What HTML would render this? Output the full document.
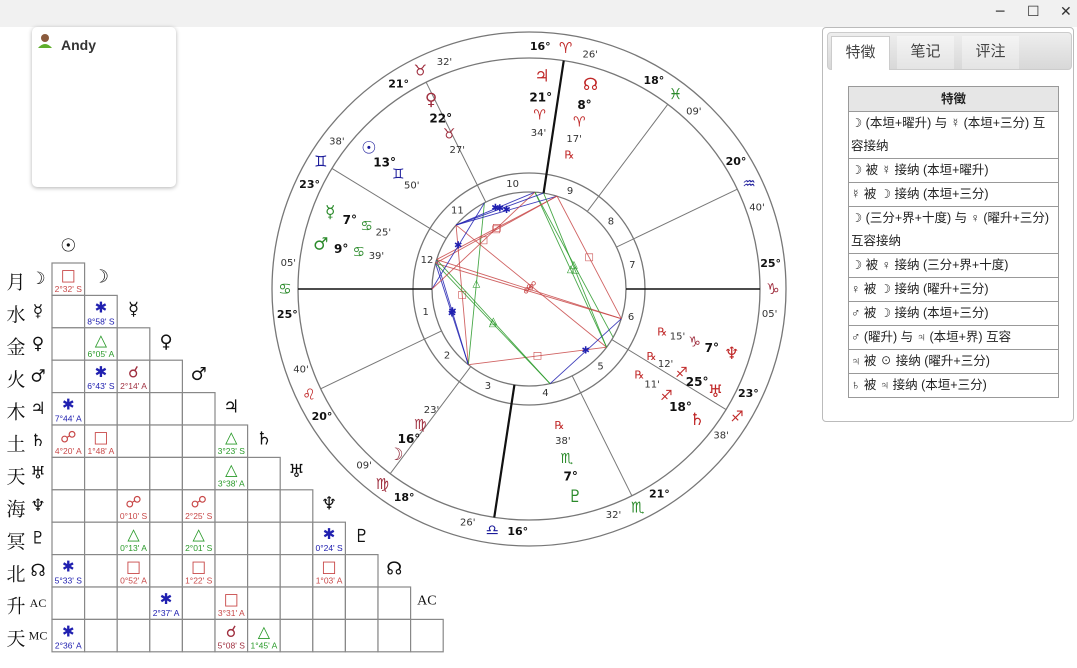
<!DOCTYPE html>
<html><head><meta charset="utf-8">
<style>
body{margin:0;width:1077px;height:668px;background:#fff;overflow:hidden;position:relative;font-family:"Liberation Sans","Noto Sans CJK SC","DejaVu Sans",sans-serif;}
.titlebar{position:absolute;left:0;top:0;width:1077px;height:27px;background:#f1f1f1;}
.ctl{position:absolute;top:4px;font-size:14px;color:#333;font-family:"DejaVu Sans",sans-serif;}
.card{position:absolute;left:32px;top:27px;width:144px;height:160px;background:#fff;border-radius:5px;box-shadow:0 1px 4px rgba(0,0,0,.3);}
.panel{position:absolute;left:822px;top:27px;width:250px;height:393px;border:1px solid #bbb;border-radius:4px;background:#fff;}
.tabs{position:absolute;left:4px;top:4px;width:243px;height:36px;background:linear-gradient(#eee,#d8d8d8);border:1px solid #ccc;border-radius:4px;}
.tab{position:absolute;top:3px;height:33px;width:57px;font-size:15px;text-align:center;line-height:32px;color:#444;background:linear-gradient(#f4f4f4,#e4e4e4);}
.tab.act{background:#fff;border:1px solid #ccc;border-bottom:none;}
table{position:absolute;left:25px;top:58px;width:211px;border-collapse:collapse;font-size:12.5px;color:#222;font-family:"Liberation Sans","Noto Sans CJK SC","DejaVu Sans",sans-serif;}
td,th{border:1px solid #999;padding:0 2px;line-height:23px;}
th{background:#e6e6e6;font-weight:bold;height:24px;}
</style></head><body>
<div class="titlebar">
<span class="ctl" style="left:996px">─</span>
<span class="ctl" style="left:1027px">☐</span>
<span class="ctl" style="left:1060px">✕</span>
</div>
<div class="card">
<svg width="20" height="20" style="position:absolute;left:5px;top:5px"><circle cx="8" cy="6" r="4" fill="#8a5a3c"/><path d="M1,16 Q8,8 15,16 Z" fill="#5fae2c"/></svg>
<span style="position:absolute;left:29px;top:10px;font-weight:bold;font-size:14px;color:#333">Andy</span>
</div>

<svg id="chart" width="1077" height="668" style="position:absolute;left:0;top:0"></svg>

<div class="panel">
<div class="tabs">
<div class="tab act" style="left:3px">特徵</div>
<div class="tab" style="left:69px">笔记</div>
<div class="tab" style="left:134px">评注</div>
</div>
<table>
<tr><th>特徵</th></tr>
<tr><td>☽ (本垣+曜升) 与 ☿ (本垣+三分) 互容接纳</td></tr>
<tr><td>☽ 被 ☿ 接纳 (本垣+曜升)</td></tr>
<tr><td>☿ 被 ☽ 接纳 (本垣+三分)</td></tr>
<tr><td>☽ (三分+界+十度) 与 ♀ (曜升+三分) 互容接纳</td></tr>
<tr><td>☽ 被 ♀ 接纳 (三分+界+十度)</td></tr>
<tr><td>♀ 被 ☽ 接纳 (曜升+三分)</td></tr>
<tr><td>♂ 被 ☽ 接纳 (本垣+三分)</td></tr>
<tr><td>♂ (曜升) 与 ♃ (本垣+界) 互容</td></tr>
<tr><td>♃ 被 ☉ 接纳 (曜升+三分)</td></tr>
<tr><td>♄ 被 ♃ 接纳 (本垣+三分)</td></tr>
</table>
</div>

<script>
// ---- data ----
const ascLon = 115.08;
const cuspLons = [115.08,140.67,168.15,196.43,231.53,263.63,295.08,320.67,348.15,16.43,51.53,83.63];
const planetNames = ['sun','moon','mercury','venus','mars','jupiter','saturn','uranus','neptune','pluto','node'];
const planetGlyphs = ['☉','☽','☿','♀','♂','♃','♄','♅','♆','♇','☊'];
const planetLons = [73.83,166.38,97.42,52.45,99.65,21.57,258.18,265.2,277.25,217.63,8.28];
const planetRetro = [false,false,false,false,false,false,true,true,true,true,true];
const planetColors = ['#1a1a9a','#8a2030','#2a8a2a','#a03040','#2a8a2a','#c02828','#c02828','#c02828','#c02828','#2a8a2a','#c02828'];
const signGlyphs = ['♈','♉','♊','♋','♌','♍','♎','♏','♐','♑','♒','♓'];
const signColors = ['#c02828','#a03040','#1a1a9a','#2a8a2a','#c02828','#a03040','#1a1a9a','#2a8a2a','#c02828','#a03040','#1a1a9a','#2a8a2a'];
// aspects: [pointA, pointB, type]  points: planet index or 'asc'/'mc'
const aspectPairs = [[0,1,'sq'],[1,2,'sx'],[1,3,'tr'],[1,4,'sx'],[0,5,'sx'],[0,6,'op'],[1,6,'sq'],[5,6,'tr'],[5,7,'tr'],[2,8,'op'],[4,8,'op'],[2,9,'tr'],[4,9,'tr'],[8,9,'sx'],[0,10,'sx'],[2,10,'sq'],[4,10,'sq'],[8,10,'sq'],[3,'asc','sx'],[5,'asc','sq'],[0,'mc','sx'],[6,'mc','tr']];
// aspect grid
const gridRowLabels = ['月','水','金','火','木','土','天','海','冥','北','升','天'];
const gridRowGlyphs = ['☽','☿','♀','♂','♃','♄','♅','♆','♇','☊','AC','MC'];
const gridColGlyphs = ['☉','☽','☿','♀','♂','♃','♄','♅','♆','♇','☊','AC'];
const gridCells = [[0,0,'sq',"2°32' S"],[1,1,'sx',"8°58' S"],[2,1,'tr',"6°05' A"],[3,1,'sx',"6°43' S"],[3,2,'cj',"2°14' A"],[4,0,'sx',"7°44' A"],[5,0,'op',"4°20' A"],[5,1,'sq',"1°48' A"],[5,5,'tr',"3°23' S"],[6,5,'tr',"3°38' A"],[7,2,'op',"0°10' S"],[7,4,'op',"2°25' S"],[8,2,'tr',"0°13' A"],[8,4,'tr',"2°01' S"],[8,8,'sx',"0°24' S"],[9,0,'sx',"5°33' S"],[9,2,'sq',"0°52' A"],[9,4,'sq',"1°22' S"],[9,8,'sq',"1°03' A"],[10,3,'sx',"2°37' A"],[10,5,'sq',"3°31' A"],[11,0,'sx',"2°36' A"],[11,5,'cj',"5°08' S"],[11,6,'tr',"1°45' A"]];

// ---- render ----
const svg=document.getElementById('chart');const NS='http://www.w3.org/2000/svg';
function el(t,a,p){const e=document.createElementNS(NS,t);for(const k in a)e.setAttribute(k,a[k]);(p||svg).appendChild(e);return e;}
function txt(x,y,s,a,p){const e=el('text',Object.assign({x:x,y:y,'text-anchor':'middle','dominant-baseline':'central','font-family':'"DejaVu Sans","Liberation Sans",sans-serif'},a),p);e.textContent=s;return e;}
const CX=529,CY=289;
function ang(lon){return (180+lon-ascLon)*Math.PI/180;}
function pt(lon,r){const a=ang(lon);return [CX+r*Math.cos(a),CY-r*Math.sin(a)];}
const asp={sq:{c:'#c84848',s:'□'},op:{c:'#c84848',s:'☍'},tr:{c:'#2a9a2a',s:'△'},sx:{c:'#2020b0',s:'✱'},cj:{c:'#a03040',s:'☌'}};

const wheel=el('g',{});


[257,231,116,97].forEach(r=>{const c=el('circle',{cx:CX,cy:CY,r:r,fill:'none',stroke:'#777','stroke-width':1.3},wheel);});
// cusps
cuspLons.forEach((lon,i)=>{
  const [x1,y1]=pt(lon,97),[x2,y2]=pt(lon,231);
  const major=(i%3===0);
  const l=el('line',{x1:x1,y1:y1,x2:x2,y2:y2,stroke:major?'#111':'#777','stroke-width':(i===0||i===6)?1.6:(major?2.2:1)},wheel);
  
  
  const s=Math.floor(lon/30),d=Math.floor(lon%30),m=Math.round((lon%1)*60);
  const [sx,sy]=pt(lon,244);
  const g=txt(sx,sy,signGlyphs[s],{fill:signColors[s],'font-size':15},wheel);
  
  
  const [dx,dy]=pt(lon+6,243);
  const t=txt(dx,dy,d+'°',{'font-size':11,'font-weight':'bold',fill:'#111'},wheel);
  
  
  const [mx,my]=pt(lon-6,242);
  const t2=txt(mx,my,String(m).padStart(2,'0')+"'",{'font-size':10,fill:'#333'},wheel);
  
  
  const next=cuspLons[(i+1)%12];let mid=lon+(((next-lon)+360)%360)/2;
  const [hx,hy]=pt(mid,106);
  const h=txt(hx,hy,String(i+1),{'font-size':10,fill:'#333'},wheel);
  
  
});
// aspect lines
function pLon(p){return p==='asc'?ascLon:(p==='mc'?cuspLons[9]:planetLons[p]);}
aspectPairs.forEach(([a,b,t])=>{
  const [x1,y1]=pt(pLon(a),97),[x2,y2]=pt(pLon(b),97);
  const l=el('line',{x1:x1,y1:y1,x2:x2,y2:y2,stroke:asp[t].c,'stroke-width':0.9,opacity:0.85},wheel);
  
  
  const s=txt((x1+x2)/2,(y1+y2)/2,asp[t].s,{'font-size':10,fill:asp[t].c},wheel);
  
  
});
// planet label layout (spread close ones)
const order=planetLons.map((l,i)=>i).sort((a,b)=>planetLons[a]-planetLons[b]);
const disp=planetLons.slice();
for(let it=0;it<20;it++){for(let k=0;k<order.length;k++){const a=order[k],b=order[(k+1)%order.length];let d=((disp[b]-disp[a])+360)%360;if(d<9){disp[a]-=(9-d)/2;disp[b]+=(9-d)/2;}}}
planetLons.forEach((lon,i)=>{
  const L=disp[i];const c=planetColors[i];
  const s=Math.floor(lon/30),d=Math.floor(lon%30),m=Math.round((lon%1)*60);
  const g=el('g',{});wheel.appendChild(g);
  
  
  let p=pt(L,213);txt(p[0],p[1],planetGlyphs[i],{'font-size':17,fill:c},g);
  p=pt(L,192);txt(p[0],p[1],d+'°',{'font-size':12,'font-weight':'bold',fill:'#111'},g);
  p=pt(L,174);txt(p[0],p[1],signGlyphs[s],{'font-size':14,fill:signColors[s]},g);
  p=pt(L,156);txt(p[0],p[1],String(m).padStart(2,'0')+"'",{'font-size':10,fill:'#333'},g);
  if(planetRetro[i]){p=pt(L,140);txt(p[0],p[1],'℞',{'font-size':11,fill:'#c02828'},g);}
});

// aspect grid
const GX=52,GY=263,CW=32.6,CH=32.4;
const grid=el('g',{});


gridRowLabels.forEach((lab,r)=>{
  for(let c=0;c<=r;c++){const rc=el('rect',{x:GX+c*CW,y:GY+r*CH,width:CW,height:CH,fill:'#fff',stroke:'#888','stroke-width':1.2},grid);
    
    }
  const cy=GY+r*CH+CH/2;
  const t=txt(16,cy+2,lab,{'font-size':19,fill:'#111','font-family':'"Noto Serif CJK SC",serif'},grid);
  
  
  const gl=gridRowGlyphs[r];
  const t2=txt(38,cy,gl,{'font-size':gl.length>1?12:17,fill:'#111','font-family':gl.length>1?'"Liberation Serif",serif':'"DejaVu Sans",sans-serif'},grid);
  
  
});
gridColGlyphs.forEach((gl,c)=>{
  const x=GX+c*CW+CW/2,y=c===0?GY-17:GY+(c-1)*CH+CH/2-2;
  const t=txt(x,y,gl,{'font-size':gl.length>1?14:18,fill:'#111','font-family':gl.length>1?'"Liberation Serif",serif':'"DejaVu Sans",sans-serif'},grid);
  
  
});
gridCells.forEach(([r,c,t,v])=>{
  const x=GX+c*CW+CW/2,y=GY+r*CH;
  const s=txt(x,y+12,asp[t].s,{'font-size':t==='sx'?15:16,fill:asp[t].c},grid);
  
  
  const vv=txt(x,y+26,v,{'font-size':8.5,fill:asp[t].c,'font-family':'"Liberation Sans",sans-serif'},grid);
  
  
});
</script>
</body></html>
